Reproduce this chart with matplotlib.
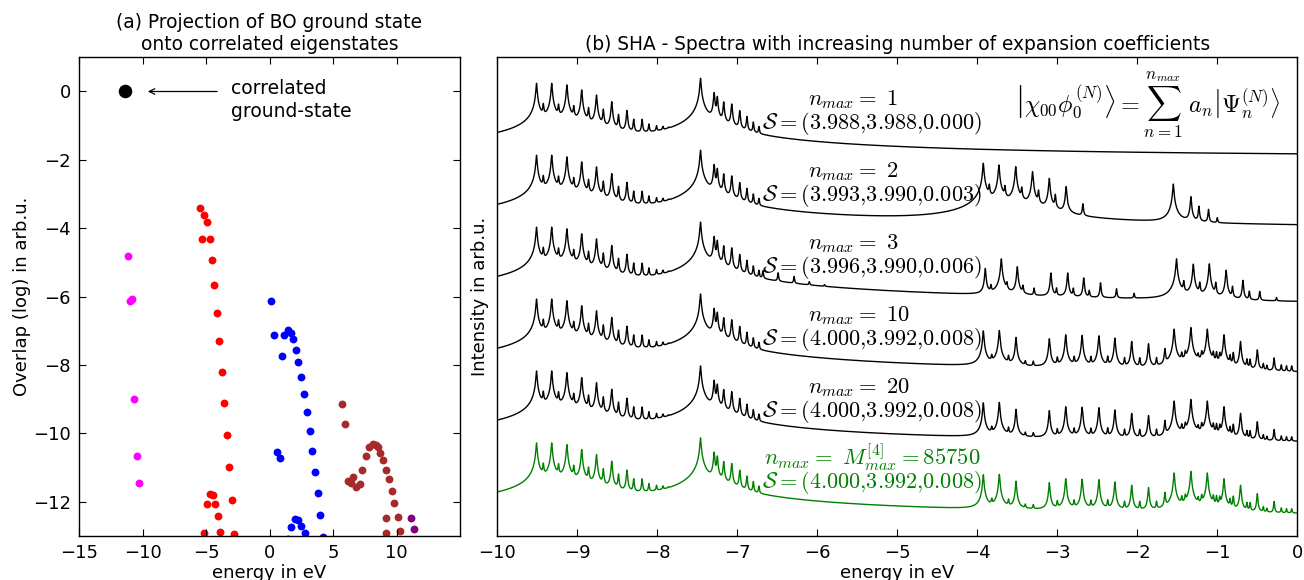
import numpy as np
import matplotlib
matplotlib.use("Agg")
import matplotlib.pyplot as plt

plt.rcParams['font.family'] = ['DejaVu Sans']
plt.rcParams['mathtext.fontset'] = 'cm'

# ---------------- Panel (a) data ----------------
GS_E = [-11.4]
GS_O = [0.0]
MAGENTA_E = [-11.18, -11.02, -10.81, -10.63, -10.45, -10.29]
MAGENTA_O = [-4.82, -6.14, -6.08, -8.99, -10.66, -11.45]
RED_E = [-5.51, -5.17, -4.96, -5.35, -4.72, -4.54, -4.36, -4.15, -3.94, -3.75, -3.57,
         -3.36, -3.15, -2.97, -4.67, -4.46, -4.91, -4.28, -4.09, -5.12, -3.91, -2.78]
RED_O = [-3.42, -3.60, -3.81, -4.30, -4.30, -4.94, -5.67, -6.47, -7.31, -8.20, -9.10,
         -10.04, -10.99, -11.96, -11.76, -11.81, -12.06, -12.06, -12.42, -12.91, -12.88, -12.94]
BLUE_E = [0.13, 0.34, 1.18, 1.42, 1.68, 1.86, 0.97, 2.10, 2.28, 2.49, 2.70, 2.94, 3.15,
          3.36, 3.57, 3.78, 3.99, 4.20, 0.57, 0.79, 1.97, 2.23, 1.71, 2.49, 2.76, 1.44]
BLUE_O = [-6.12, -7.12, -7.13, -6.97, -7.05, -7.25, -7.73, -7.55, -7.92, -8.36, -8.84,
          -9.36, -9.92, -10.51, -11.12, -11.74, -12.39, -13.04, -10.53, -10.72, -12.49,
          -12.52, -12.74, -12.72, -12.90, -13.08]
BROWN_E = [5.69, 5.91, 8.14, 7.87, 8.40, 8.53, 7.56, 8.74, 8.93, 7.32, 9.16, 6.61, 6.17,
           6.43, 7.09, 6.83, 9.40, 9.61, 9.84, 9.16, 10.08, 9.16, 10.29]
BROWN_O = [-9.15, -9.71, -10.31, -10.40, -10.35, -10.41, -10.67, -10.56, -10.77, -11.07,
           -11.08, -11.26, -11.39, -11.44, -11.49, -11.56, -11.34, -11.69, -12.04, -12.46,
           -12.43, -12.90, -12.84]
PURPLE_E = [11.15, 11.36]
PURPLE_O = [-12.46, -12.80]

# ---------------- Panel (b) data: peak positions (eV) and log10 amplitudes ----------------
A_POS = [-9.51, -9.32, -9.13, -8.945, -8.76, -8.57, -8.38, -8.19, -8.01, -7.86]
A_LOG = [-0.37, -0.37, -0.49, -0.86, -1.23, -1.72, -2.38, -3.07, -3.72, -4.4]
A2_POS = [-9.425, -9.235, -9.045, -8.86, -8.675, -8.485, -8.295, -8.105, -7.93]
A2_LOG = [-1.95, -2.0, -2.1, -2.2, -2.3, -2.7, -3.06, -3.5, -3.9]
B_POS = [-7.46, -7.29, -7.25, -7.17, -7.07, -6.97, -6.88, -6.80, -6.73]
B_LOG = [0.0, -1.06, -1.35, -1.75, -1.9, -2.4, -2.85, -3.3, -3.7]
B3_POS = [-6.68, -6.49, -6.29, -6.10, -5.91]
B3_LOG = [-3.72, -3.85, -4.15, -4.75, -5.2]

C2_POS = [-3.925, -3.73, -3.52, -3.31, -3.10, -2.89, -2.68]
C2_LOG = [-0.96, -1.09, -1.21, -1.58, -2.07, -2.68, -4.0]
C2S_POS = [-3.85, -3.655, -3.445, -3.235, -3.025]
C2S_LOG = [-2.6, -2.7, -2.8, -3.0, -3.3]
D2_POS = [-1.55, -1.33, -1.23, -1.11, -1.0]
D2_LOG = [-2.49, -3.42, -4.15, -4.4, -5.2]

C3_POS = [-3.90, -3.70, -3.50, -3.29, -3.08, -2.87, -2.67, -2.46, -2.26, -2.04]
C3_LOG = [-3.41, -2.70, -3.28, -5.0, -3.75, -3.75, -4.12, -4.5, -5.0, -5.5]
C3S_POS = [-3.83, -3.63, -3.43, -3.01, -2.80, -2.60]
C3S_LOG = [-4.8, -4.6, -4.8, -5.0, -5.0, -5.2]
D3_POS = [-1.51, -1.30, -1.10, -0.89, -0.68, -0.47, -0.26]
D3_LOG = [-2.70, -3.09, -3.07, -3.54, -4.3, -5.2, -5.9]
D3S_POS = [-1.42, -1.22, -1.02, -0.81, -0.60]
D3S_LOG = [-4.4, -4.5, -4.5, -4.8, -5.2]

CF_POS = [-3.925, -3.725, -3.516, -3.40, -3.30, -3.10, -2.895, -2.69, -2.48, -2.28,
          -2.07, -1.86, -1.655]
CF_LOG = [-2.71, -2.68, -3.19, -5.2, -5.2, -3.29, -3.0, -3.04, -3.07, -3.24, -3.49,
          -3.66, -4.05]
CFS_POS = [-3.82, -3.61, -3.0, -2.79, -2.58, -2.37, -2.16, -1.97, -1.76]
CFS_LOG = [-4.7, -4.7, -4.8, -4.75, -4.75, -4.7, -4.8, -4.8, -4.8]
DF_POS = [-1.54, -1.33, -1.125, -0.916, -0.71, -0.50, -0.29, -0.20, -0.135, -0.07]
DF_LOG = [-2.58, -2.46, -2.58, -3.0, -3.49, -4.12, -4.75, -5.4, -5.5, -5.5]
DFS_POS = [-1.445, -1.40, -1.24, -1.195, -1.05, -1.01, -0.97, -0.84, -0.80, -0.63,
           -0.59, -0.425, -0.38]
DFS_LOG = [-4.45, -4.35, -4.6, -4.35, -4.35, -4.35, -4.45, -4.6, -4.35, -4.9, -4.9,
           -5.3, -5.5]

SPEC_GROUPS = [
    [(A_POS, A_LOG), (A2_POS, A2_LOG), (B_POS, B_LOG)],
    [(A_POS, A_LOG), (A2_POS, A2_LOG), (B_POS, B_LOG), (C2_POS, C2_LOG), (C2S_POS, C2S_LOG), (D2_POS, D2_LOG)],
    [(A_POS, A_LOG), (A2_POS, A2_LOG), (B_POS, B_LOG), (B3_POS, B3_LOG), (C3_POS, C3_LOG),
     (C3S_POS, C3S_LOG), (D3_POS, D3_LOG), (D3S_POS, D3S_LOG)],
    [(A_POS, A_LOG), (A2_POS, A2_LOG), (B_POS, B_LOG), (CF_POS, CF_LOG), (CFS_POS, CFS_LOG),
     (DF_POS, DF_LOG), (DFS_POS, DFS_LOG)],
    [(A_POS, A_LOG), (A2_POS, A2_LOG), (B_POS, B_LOG), (CF_POS, CF_LOG), (CFS_POS, CFS_LOG),
     (DF_POS, DF_LOG), (DFS_POS, DFS_LOG)],
    [(A_POS, A_LOG), (A2_POS, A2_LOG), (B_POS, B_LOG), (CF_POS, CF_LOG), (CFS_POS, CFS_LOG),
     (DF_POS, DF_LOG), (DFS_POS, DFS_LOG)],
]
FLOOR_LOG = [-5.77, -5.8, -6.5, -6.2, -5.8, -5.8]
NMAX_LABELS = [r'$n_{max}=\ 1$', r'$n_{max}=\ 2$', r'$n_{max}=\ 3$', r'$n_{max}=\ 10$',
               r'$n_{max}=\ 20$', r'$n_{max}=\ M^{[4]}_{max}=85750$']
S_LABELS = [r'$\mathcal{S}=(3.988{,}3.988{,}0.000)$', r'$\mathcal{S}=(3.993{,}3.990{,}0.003)$',
            r'$\mathcal{S}=(3.996{,}3.990{,}0.006)$', r'$\mathcal{S}=(4.000{,}3.992{,}0.008)$',
            r'$\mathcal{S}=(4.000{,}3.992{,}0.008)$', r'$\mathcal{S}=(4.000{,}3.992{,}0.008)$']
SPEC_COLORS = ['black', 'black', 'black', 'black', 'black', 'green']
WIDTH = 0.0054       # Lorentzian half width (eV)
STEP = 5.287         # vertical offset between spectra (decades)

W, H = 1304, 580
fig = plt.figure(figsize=(W / 100, H / 100), dpi=100)

def frac(x0, y0, x1, y1):
    return [x0 / W, 1 - y1 / H, (x1 - x0) / W, (y1 - y0) / H]

# ---------------- Panel (a) ----------------
ax1 = fig.add_axes(frac(79, 57.3, 460, 536))
ax1.scatter(MAGENTA_E, MAGENTA_O, s=32, color='#FF00FF', linewidths=0)
ax1.scatter(RED_E, RED_O, s=32, color='#FF0000', linewidths=0)
ax1.scatter(BLUE_E, BLUE_O, s=32, color='#0000FF', linewidths=0)
ax1.scatter(BROWN_E, BROWN_O, s=32, color='#A52A2A', linewidths=0)
ax1.scatter(PURPLE_E, PURPLE_O, s=32, color='#800080', linewidths=0)
ax1.scatter(GS_E, GS_O, s=95, color='black', linewidths=0)
ax1.annotate('', xy=(-9.8, 0), xytext=(-3.9, 0),
             arrowprops=dict(arrowstyle='->', color='black', lw=0.9))
ax1.text(-3.0, -0.25, 'correlated\nground-state', fontsize=13.5, va='center', ha='left',
         linespacing=1.25)
ax1.set_xlim(-15, 15)
ax1.set_ylim(-13, 1)
ax1.set_xticks([-15, -10, -5, 0, 5, 10])
ax1.set_yticks([0, -2, -4, -6, -8, -10, -12])
ax1.tick_params(direction='in', length=5, top=True, right=True, labelsize=13, pad=6)
ax1.set_xlabel('energy in eV', fontsize=13, labelpad=1)
ax1.set_ylabel('Overlap (log) in arb.u.', fontsize=13, labelpad=1)
ax1.set_title('(a) Projection of BO ground state\nonto correlated eigenstates', fontsize=13.4,
              pad=5, linespacing=1.2)

# ---------------- Panel (b) ----------------
ax2 = fig.add_axes(frac(497.3, 57.3, 1297.3, 536))
x = np.linspace(-10, 0, 40001)
for k, groups in enumerate(SPEC_GROUPS):
    s = np.full_like(x, 10.0 ** FLOOR_LOG[k])
    for pos, lg in groups:
        for p, a in zip(pos, lg):
            s += 10.0 ** a * WIDTH ** 2 / ((x - p) ** 2 + WIDTH ** 2)
    ax2.plot(x, np.log10(s) - k * STEP, color=SPEC_COLORS[k], lw=1.0)

ax2.set_xlim(-10, 0)
ax2.set_ylim(-33.65, 1.544)
ax2.set_yticks([])
ax2.set_xticks(range(-10, 1))
ax2.tick_params(direction='in', length=5, top=True, labelsize=13, pad=6)
ax2.set_xlabel('energy in eV', fontsize=13, labelpad=1)
ax2.set_ylabel('Intensity in arb.u.', fontsize=13, labelpad=6)
ax2.set_title('(b) SHA - Spectra with increasing number of expansion coefficients',
              fontsize=13.4, pad=5)

for k in range(6):
    col = SPEC_COLORS[k]
    y_n = (536 - (100 + 71.9 * k - (2 if k == 5 else 0))) / 478.7
    y_s = (536 - (123.5 + 71.9 * k)) / 478.7
    xn = 0.333 if k == 5 else 0.388
    ax2.text(xn, y_n, NMAX_LABELS[k], transform=ax2.transAxes, fontsize=16.3,
             color=col, ha='left', va='center')
    ax2.text(0.331, y_s, S_LABELS[k], transform=ax2.transAxes, fontsize=16,
             color=col, ha='left', va='center')

ax2.text(0.8125, 0.90,
         r'$\left|\chi_{00}\phi_0^{(N)}\right\rangle=\sum_{n=1}^{n_{max}}\ a_n\left|\Psi_n^{(N)}\right\rangle$',
         transform=ax2.transAxes, fontsize=17.5, ha='center', va='center')

for ax in (ax1, ax2):
    for sp in ax.spines.values():
        sp.set_linewidth(1.0)

fig.savefig('out.png', dpi=100)
